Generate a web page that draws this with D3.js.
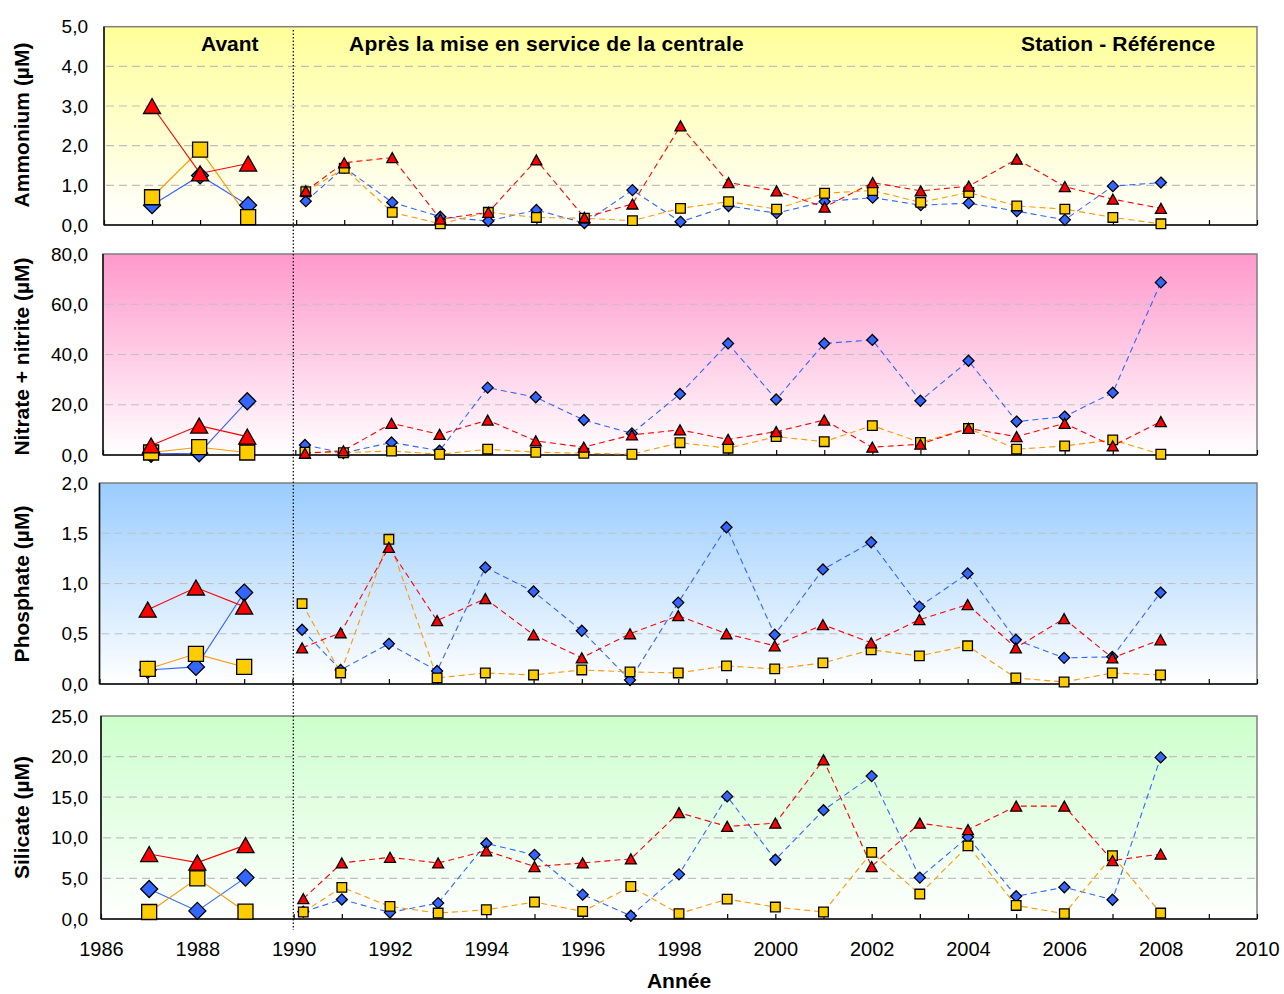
<!DOCTYPE html>
<html>
<head>
<meta charset="utf-8">
<script src="https://cdn.jsdelivr.net/npm/d3@7"></script>
<style>
  body { margin: 0; background: #fff; }
  svg { display: block; }
  text { font-family: "Liberation Sans", Arial, sans-serif; }
</style>
</head>
<body>
<svg id="chart" width="1284" height="994"></svg>
<script>
// Campaign years: 1987-1989 before commissioning, then 1990 to 2008
const years = [1987, 1988, 1989, 1990.2, 1991, 1992, 1993, 1994, 1995, 1996, 1997,
               1998, 1999, 2000, 2001, 2002, 2003, 2004, 2005, 2006, 2007, 2008];
const nBefore = 3;
const yearTicks = [1986, 1987, 1988, 1989, 1990, 1991, 1992, 1993, 1994, 1995, 1996, 1997, 1998,
                   1999, 2000, 2001, 2002, 2003, 2004, 2005, 2006, 2007, 2008, 2009, 2010];
const yearLabels = [1986, 1988, 1990, 1992, 1994, 1996, 1998, 2000, 2002, 2004, 2006, 2008, 2010];

// Ammonium (µM)
const ammoniumLosange  = [0.5, 1.25, 0.5, 0.6, 1.45, 0.57, 0.21, 0.1, 0.38, 0.05, 0.88, 0.08, 0.48, 0.3, 0.59, 0.69, 0.5, 0.55, 0.35, 0.13, 0.98, 1.07];
const ammoniumCarre    = [0.7, 1.9, 0.2, 0.84, 1.43, 0.32, 0.03, 0.32, 0.19, 0.17, 0.11, 0.42, 0.59, 0.4, 0.8, 0.87, 0.57, 0.82, 0.48, 0.4, 0.19, 0.03];
const ammoniumTriangle = [3.0, 1.3, 1.55, 0.86, 1.57, 1.7, 0.15, 0.32, 1.64, 0.19, 0.53, 2.5, 1.07, 0.86, 0.45, 1.07, 0.86, 0.98, 1.66, 0.97, 0.65, 0.42];
const ammoniumTicks = [0, 1, 2, 3, 4, 5];

// Nitrate + nitrite (µM)
const nitrateLosange  = [0.5, 0.7, 21.4, 4.0, 0.8, 5.0, 1.7, 26.8, 23.0, 13.9, 8.6, 24.3, 44.4, 22.1, 44.4, 45.8, 21.6, 37.5, 13.3, 15.3, 24.8, 68.7];
const nitrateCarre    = [1.0, 3.1, 1.0, 1.1, 0.9, 1.6, 0.3, 2.3, 1.1, 0.7, 0.3, 4.9, 2.7, 7.3, 5.3, 11.7, 5.0, 10.6, 2.3, 3.6, 6.0, 0.3];
const nitrateTriangle = [3.8, 11.7, 7.3, 0.7, 1.7, 12.6, 8.2, 13.9, 5.6, 3.1, 8.0, 10.0, 6.2, 9.3, 13.9, 3.1, 4.3, 10.6, 7.3, 12.6, 3.6, 13.3];
const nitrateTicks = [0, 20, 40, 60, 80];

// Phosphate (µM)
const phosphateLosange  = [0.14, 0.17, 0.91, 0.54, 0.14, 0.40, 0.13, 1.16, 0.92, 0.53, 0.04, 0.81, 1.56, 0.49, 1.14, 1.41, 0.77, 1.10, 0.44, 0.26, 0.27, 0.91];
const phosphateCarre    = [0.15, 0.30, 0.17, 0.80, 0.11, 1.44, 0.06, 0.11, 0.09, 0.14, 0.12, 0.11, 0.18, 0.15, 0.21, 0.34, 0.28, 0.38, 0.06, 0.02, 0.11, 0.09];
const phosphateTriangle = [0.74, 0.96, 0.77, 0.36, 0.51, 1.36, 0.63, 0.85, 0.49, 0.26, 0.50, 0.68, 0.50, 0.38, 0.59, 0.41, 0.64, 0.79, 0.36, 0.65, 0.26, 0.44];
const phosphateTicks = [0, 0.5, 1, 1.5, 2];

// Silicate (µM)
const silicateLosange  = [3.7, 1.0, 5.1, 0.9, 2.4, 0.8, 1.96, 9.3, 7.9, 3.0, 0.4, 5.5, 15.1, 7.3, 13.4, 17.6, 5.1, 10.1, 2.8, 3.9, 2.37, 19.9];
const silicateCarre    = [0.86, 5.0, 0.9, 0.86, 3.9, 1.55, 0.73, 1.14, 2.09, 0.93, 4.0, 0.65, 2.45, 1.47, 0.86, 8.2, 3.07, 9.0, 1.67, 0.65, 7.8, 0.73];
const silicateTriangle = [8.0, 6.95, 9.1, 2.5, 6.9, 7.6, 6.9, 8.4, 6.46, 6.9, 7.4, 13.1, 11.4, 11.8, 19.6, 6.46, 11.8, 11.0, 13.9, 13.9, 7.2, 8.0];
const silicateTicks = [0, 5, 10, 15, 20, 25];

// Period headings
const headings = ["Avant", "Après la mise en service de la centrale", "Station - Référence"];

// ---------------------------------------------------------------------------
const svg = d3.select("#chart");
const xRight = 1257;

const seriesStyle = [
  { shape: "diamond",  fill: "#3366ff", line: "#3366ff" },
  { shape: "square",   fill: "#ffcc00", line: "#ff9900" },
  { shape: "triangle", fill: "#ff0000", line: "#ff0000" }
];

const panels = [
  { title: "Ammonium (µM)", ticks: ammoniumTicks, series: [ammoniumLosange, ammoniumCarre, ammoniumTriangle],
    left: 104, top: 26.7, bottom: 225, color: "#ffff99", titleY: 125 },
  { title: "Nitrate + nitrite (µM)", ticks: nitrateTicks, series: [nitrateLosange, nitrateCarre, nitrateTriangle],
    left: 103, top: 254, bottom: 455, color: "#ff99cc", titleY: 356.5 },
  { title: "Phosphate (µM)", ticks: phosphateTicks, series: [phosphateLosange, phosphateCarre, phosphateTriangle],
    left: 99.5, top: 483, bottom: 684, color: "#99ccff", titleY: 584 },
  { title: "Silicate (µM)", ticks: silicateTicks, series: [silicateLosange, silicateCarre, silicateTriangle],
    left: 101, top: 716, bottom: 919, color: "#ccffcc", titleY: 817.5 }
];

const fmt = v => d3.format(".1f")(v).replace(".", ",");

// Marker outlines centred on (0,0); big markers before 1990, small after
function markerPath(shape, big) {
  if (shape === "diamond") {
    const r = big ? 8.5 : 5.5;
    return `M0,${-r}L${r},0L0,${r}L${-r},0Z`;
  }
  if (shape === "square") {
    const h = big ? 7.5 : 4.8;
    return `M${-h},${-h}L${h},${-h}L${h},${h}L${-h},${h}Z`;
  }
  const w = big ? 8.5 : 5.5, t = big ? 7.5 : 5;
  return `M0,${-t}L${w},${t}L${-w},${t}Z`;
}

const defs = svg.append("defs");

panels.forEach((p, i) => {
  const x = d3.scaleLinear().domain([1986, 2010]).range([p.left, xRight]);
  const y = d3.scaleLinear().domain([0, d3.max(p.ticks)]).range([p.bottom, p.top]);

  const grad = defs.append("linearGradient")
    .attr("id", "bg" + i).attr("x1", 0).attr("y1", 0).attr("x2", 0).attr("y2", 1);
  grad.append("stop").attr("offset", "0%").attr("stop-color", p.color);
  grad.append("stop").attr("offset", "100%").attr("stop-color", "#ffffff");

  const g = svg.append("g");

  // plot background
  g.append("rect")
    .attr("x", p.left).attr("y", p.top)
    .attr("width", xRight - p.left).attr("height", p.bottom - p.top)
    .attr("fill", `url(#bg${i})`)
    .attr("stroke", "#7f7f7f").attr("stroke-width", 1.5);

  // horizontal dashed gridlines
  g.append("g").selectAll("line")
    .data(p.ticks.slice(1, -1))
    .join("line")
    .attr("x1", p.left + 2).attr("x2", xRight - 2)
    .attr("y1", d => y(d)).attr("y2", d => y(d))
    .attr("stroke", "#c0c0c0").attr("stroke-width", 1.2)
    .attr("stroke-dasharray", "8,5");

  // y axis labels
  const yAxis = g.append("g")
    .attr("transform", `translate(${p.left},0)`)
    .call(d3.axisLeft(y).tickValues(p.ticks).tickFormat(fmt).tickSize(0).tickPadding(p.left - 88));
  yAxis.select(".domain").remove();
  yAxis.selectAll("text").attr("font-size", 19).attr("fill", "#000");

  // x axis with inward year ticks
  const xAxis = g.append("g")
    .attr("transform", `translate(0,${p.bottom})`)
    .call(d3.axisBottom(x).tickValues(yearTicks).tickFormat("").tickSizeInner(-5).tickSizeOuter(0));
  xAxis.select(".domain").remove();
  xAxis.selectAll("line").attr("stroke", "#000").attr("stroke-width", 1.2);

  // left and bottom axis lines
  g.append("line").attr("x1", p.left).attr("x2", p.left)
    .attr("y1", p.top).attr("y2", p.bottom).attr("stroke", "#111").attr("stroke-width", 1.5);
  g.append("line").attr("x1", p.left).attr("x2", xRight)
    .attr("y1", p.bottom).attr("y2", p.bottom).attr("stroke", "#111").attr("stroke-width", 1.5);

  // y title
  g.append("text")
    .attr("transform", `translate(29,${p.titleY}) rotate(-90)`)
    .attr("text-anchor", "middle")
    .attr("font-size", 21).attr("font-weight", "bold")
    .text(p.title);

  const line = d3.line().x(d => x(d[0])).y(d => y(d[1]));

  // lines
  p.series.forEach((vals, s) => {
    const pts = years.map((yr, k) => [yr, vals[k]]);
    g.append("path").datum(pts.slice(0, nBefore))
      .attr("d", line).attr("fill", "none")
      .attr("stroke", seriesStyle[s].line).attr("stroke-width", 1.1);
    g.append("path").datum(pts.slice(nBefore))
      .attr("d", line).attr("fill", "none")
      .attr("stroke", seriesStyle[s].line).attr("stroke-width", 1.1)
      .attr("stroke-dasharray", "6,4");
  });

  // markers
  p.series.forEach((vals, s) => {
    g.append("g").selectAll("path")
      .data(years.map((yr, k) => ({ yr, v: vals[k], big: k < nBefore })))
      .join("path")
      .attr("transform", d => `translate(${x(d.yr)},${y(d.v)})`)
      .attr("d", d => markerPath(seriesStyle[s].shape, d.big))
      .attr("fill", seriesStyle[s].fill)
      .attr("stroke", "#000").attr("stroke-width", 1.3)
      .attr("stroke-linejoin", "miter");
  });

  // year labels on the bottom panel
  if (i === panels.length - 1) {
    const lab = g.append("g")
      .attr("transform", `translate(0,${p.bottom})`)
      .call(d3.axisBottom(x).tickValues(yearLabels).tickFormat(d3.format("d")).tickSize(0).tickPadding(23));
    lab.select(".domain").remove();
    lab.selectAll("text").attr("font-size", 20).attr("fill", "#000");

    svg.append("text")
      .attr("x", (p.left + xRight) / 2).attr("y", 988)
      .attr("text-anchor", "middle")
      .attr("font-size", 21).attr("font-weight", "bold")
      .text("Année");
  }
});

// commissioning marker (dotted vertical line)
svg.append("line")
  .attr("x1", 293.3).attr("x2", 293.3).attr("y1", 30).attr("y2", 930)
  .attr("stroke", "#000").attr("stroke-width", 1.2).attr("stroke-dasharray", "1.5,2");

// period headings
const headX = [201, 349, 1021];
const headSpacing = [0, 0.25, 0.15];
svg.append("g").selectAll("text")
  .data(headings)
  .join("text")
  .attr("x", (d, k) => headX[k]).attr("y", 51)
  .attr("font-size", 21).attr("font-weight", "bold")
  .attr("letter-spacing", (d, k) => headSpacing[k])
  .text(d => d);
</script>
</body>
</html>
